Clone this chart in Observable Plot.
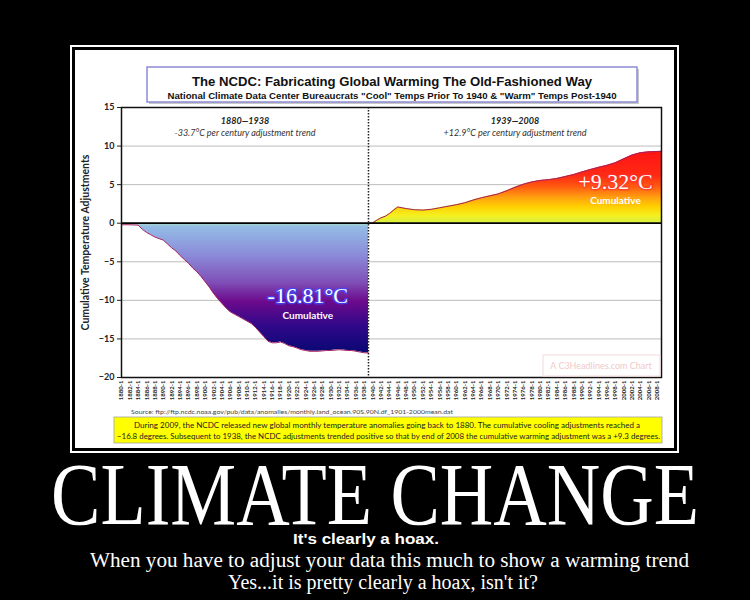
<!DOCTYPE html>
<html>
<head>
<meta charset="utf-8">
<script src="https://cdn.jsdelivr.net/npm/d3@7"></script>
<script src="https://cdn.jsdelivr.net/npm/@observablehq/plot@0.6"></script>
<style>
  html, body { margin: 0; padding: 0; background: #000; }
  #poster { position: relative; width: 750px; height: 600px; background: #000; overflow: hidden; }
  #outer { position: absolute; left: 70px; top: 45px; width: 609px; height: 408px; box-sizing: border-box; border: 2px solid #fff; background: #000; }
  #panel { position: absolute; left: 75px; top: 50px; width: 599px; height: 398px; background: #fff; }
  #chart { position: absolute; left: 75px; top: 50px; }
  #deco { position: absolute; left: 0; top: 0; pointer-events: none; }
</style>
</head>
<body>
<div id="poster">
  <div id="outer"></div>
  <div id="panel"></div>
  <div id="chart"></div>
  <svg id="deco" width="750" height="600" xmlns="http://www.w3.org/2000/svg">
    <!-- chart title box -->
    <rect x="149" y="69" width="490" height="35" fill="#c8c8c8"/>
    <rect x="147" y="67" width="490" height="35" fill="#fff" stroke="#8c8cd4" stroke-width="1.5"/>
    <text x="392" y="86" text-anchor="middle" font-family="Liberation Sans, Arial, sans-serif" font-weight="bold" font-size="12.5" fill="#111" textLength="400" lengthAdjust="spacingAndGlyphs">The NCDC: Fabricating Global Warming The Old-Fashioned Way</text>
    <text x="392" y="98.5" text-anchor="middle" font-family="Liberation Sans, Arial, sans-serif" font-weight="bold" font-size="9" fill="#111" textLength="449" lengthAdjust="spacingAndGlyphs">National Climate Data Center Bureaucrats "Cool" Temps Prior To 1940 &amp; "Warm" Temps Post-1940</text>
    <!-- watermark -->
    <rect x="543" y="355" width="117" height="21" fill="none" stroke="#f6dada" stroke-width="1"/>
    <text x="601" y="369" text-anchor="middle" font-family="Lato, sans-serif" font-size="9" fill="#f2c8c8">A C3Headlines.com Chart</text>
    <!-- source -->
    <text x="131" y="414" font-family="Lato, sans-serif" font-size="5.5" fill="#444" textLength="322" lengthAdjust="spacingAndGlyphs">Source: ftp://ftp.ncdc.noaa.gov/pub/data/anomalies/monthly.land_ocean.90S.90N.df_1901-2000mean.dat</text>
    <!-- yellow note -->
    <rect x="114" y="417" width="548" height="26" fill="#ffff00" stroke="#a0a0a0" stroke-width="0.8"/>
    <text x="387" y="427.5" text-anchor="middle" font-family="Lato, sans-serif" font-size="7.4" fill="#222" textLength="506" lengthAdjust="spacingAndGlyphs">During 2009, the NCDC released new global monthly temperature anomalies going back to 1880. The cumulative cooling adjustments reached a</text>
    <text x="388.5" y="439" text-anchor="middle" font-family="Lato, sans-serif" font-size="7.4" fill="#222" textLength="543" lengthAdjust="spacingAndGlyphs">−16.8 degrees. Subsequent to 1938, the NCDC adjustments trended positive so that by end of 2008 the cumulative warming adjustment was a +9.3 degrees.</text>
    <!-- poster text -->
    <text x="375" y="524" text-anchor="middle" font-family="Liberation Serif, Times New Roman, serif" font-size="88" fill="#fff" textLength="648" lengthAdjust="spacingAndGlyphs">CLIMATE CHANGE</text>
    <text x="366" y="544" text-anchor="middle" font-family="Liberation Sans, Arial, sans-serif" font-weight="bold" font-size="15" fill="#fff" textLength="146" lengthAdjust="spacingAndGlyphs">It's clearly a hoax.</text>
    <text x="389.5" y="567" text-anchor="middle" font-family="Liberation Serif, Times New Roman, serif" font-size="20" fill="#fff" textLength="599" lengthAdjust="spacingAndGlyphs">When you have to adjust your data this much to show a warming trend</text>
    <text x="383" y="589" text-anchor="middle" font-family="Liberation Serif, Times New Roman, serif" font-size="20" fill="#fff" textLength="310" lengthAdjust="spacingAndGlyphs">Yes...it is pretty clearly a hoax, isn't it?</text>
  </svg>
</div>
<script>
// ---- data ----
const coolYears = [1880,1882,1884,1885,1886,1887,1888,1889,1890,1891,1892,1893,1894,1895,1896,1897,1898,1899,1900,1901,1902,1903,1904,1905,1906,1907,1908,1909,1910,1911,1912,1913,1914,1915,1916,1917,1918,1919,1920,1921,1922,1923,1924,1925,1926,1927,1928,1929,1930,1931,1932,1933,1934,1935,1936,1937,1938,1939];
const coolValues = [-0.2,-0.2,-0.25,-0.8,-1.2,-1.5,-1.8,-2.0,-2.2,-2.7,-3.2,-3.6,-4.2,-4.7,-5.2,-5.8,-6.3,-6.9,-7.6,-8.3,-9.1,-9.8,-10.4,-11.0,-11.5,-11.8,-12.1,-12.4,-12.7,-13.0,-13.5,-14.1,-14.7,-15.3,-15.5,-15.5,-15.4,-15.6,-15.9,-16.0,-16.2,-16.4,-16.5,-16.6,-16.6,-16.6,-16.55,-16.5,-16.5,-16.45,-16.4,-16.45,-16.5,-16.5,-16.6,-16.7,-16.8,-16.81];
const warmYears = [1939,1940,1941,1942,1943,1944,1945,1946,1947,1948,1950,1952,1954,1956,1958,1960,1962,1964,1966,1968,1970,1972,1974,1976,1978,1980,1982,1984,1986,1988,1990,1992,1994,1996,1998,2000,2002,2004,2006,2008,2009];
const warmValues = [0,0.05,0.4,0.7,0.9,1.25,1.7,2.1,2.0,1.9,1.75,1.7,1.8,2.0,2.2,2.4,2.65,3.0,3.3,3.55,3.8,4.2,4.65,5.05,5.35,5.55,5.65,5.8,6.05,6.3,6.65,6.95,7.25,7.5,7.85,8.35,8.85,9.15,9.25,9.3,9.32];
const xTickYears = [1880,1882,1884,1886,1888,1890,1892,1894,1896,1898,1900,1902,1904,1906,1908,1910,1912,1914,1916,1918,1920,1922,1924,1926,1928,1930,1932,1934,1936,1938,1940,1942,1944,1946,1948,1950,1952,1954,1956,1958,1960,1962,1964,1966,1968,1970,1972,1974,1976,1978,1980,1982,1984,1986,1988,1990,1992,1994,1996,1998,2000,2002,2004,2006,2008];
const yTicks = [-20,-15,-10,-5,0,5,10,15];
const gridTicks = [-15,-10,-5,5,10];
const splitYear = 1939;

const cool = coolYears.map((year, i) => ({year, value: coolValues[i]}));
const warm = warmYears.map((year, i) => ({year, value: warmValues[i]}));

const chart = Plot.plot({
  width: 599,
  height: 398,
  marginLeft: 46,
  marginRight: 13,
  marginTop: 57,
  marginBottom: 71,
  style: {background: "transparent", fontFamily: "Lato, sans-serif", color: "#222", overflow: "visible"},
  x: {domain: [1880, 2009]},
  y: {domain: [-20, 15]},
  marks: [
    Plot.gridY(gridTicks, {stroke: "#bcbcbc", strokeOpacity: 1, strokeWidth: 1}),
    Plot.areaY(cool, {x: "year", y: "value", fill: "url(#gCool)"}),
    Plot.areaY(warm, {x: "year", y: "value", fill: "url(#gWarm)"}),
    Plot.line(cool, {x: "year", y: "value", stroke: "#a3205f", strokeWidth: 1}),
    Plot.line(warm, {x: "year", y: "value", stroke: "#a3205f", strokeWidth: 1}),
    Plot.ruleY([0], {stroke: "#000", strokeWidth: 1.8}),
    Plot.ruleX([splitYear], {stroke: "#222", strokeWidth: 1.5, strokeDasharray: "1.5,1.5"}),
    Plot.frame({stroke: "#111", strokeWidth: 1.5}),
    Plot.axisX(xTickYears, {tickFormat: d => d + "-1", tickRotate: -90, fontSize: 6, fontWeight: "bold", tickSize: 0, tickPadding: 3, label: null}),
    Plot.axisY(yTicks, {tickSize: 4, tickPadding: 3, fontSize: 9, fontWeight: "bold", label: null}),
    Plot.axisY({label: "Cumulative Temperature Adjustments", labelAnchor: "center", labelOffset: 40, labelArrow: "none", ticks: [], fontSize: 10.5, fontWeight: "bold"}),
    Plot.text(["1880—1938"], {x: 1909.5, y: 15, dy: 14, fontSize: 9, fontWeight: "bold", fontStyle: "italic", fill: "#222"}),
    Plot.text(["-33.7°C per century adjustment trend"], {x: 1909.5, y: 15, dy: 26, fontSize: 9, fontStyle: "italic", fill: "#333"}),
    Plot.text(["1939—2008"], {x: 1974, y: 15, dy: 14, fontSize: 9, fontWeight: "bold", fontStyle: "italic", fill: "#222"}),
    Plot.text(["+12.9°C per century adjustment trend"], {x: 1974, y: 15, dy: 26, fontSize: 9, fontStyle: "italic", fill: "#333"}),
    Plot.text(["-16.81°C"], {x: 1924.5, y: -9.45, fontSize: 22, fontFamily: "Liberation Serif, serif", fill: "#fff", stroke: "#3a48ff", strokeWidth: 3, strokeOpacity: 0.75}),
    Plot.text(["Cumulative"], {x: 1924.5, y: -12.05, fontSize: 10, fontWeight: "bold", fill: "#fff"}),
    Plot.text(["+9.32°C"], {x: 1998, y: 5.38, fontSize: 22, fontFamily: "Liberation Serif, serif", fill: "#fff", stroke: "#ff3030", strokeWidth: 3, strokeOpacity: 0.6}),
    Plot.text(["Cumulative"], {x: 1998, y: 2.85, fontSize: 10, fontWeight: "bold", fill: "#fff"})
  ]
});

// gradients anchored to the y scale
const ys = chart.scale("y");
const ns = "http://www.w3.org/2000/svg";
const defs = document.createElementNS(ns, "defs");
function grad(id, v0, v1, stops) {
  const g = document.createElementNS(ns, "linearGradient");
  g.setAttribute("id", id);
  g.setAttribute("gradientUnits", "userSpaceOnUse");
  g.setAttribute("x1", 0); g.setAttribute("x2", 0);
  g.setAttribute("y1", ys.apply(v0)); g.setAttribute("y2", ys.apply(v1));
  for (const [o, c] of stops) {
    const s = document.createElementNS(ns, "stop");
    s.setAttribute("offset", o);
    s.setAttribute("stop-color", c);
    g.appendChild(s);
  }
  defs.appendChild(g);
}
grad("gCool", 0, -17, [[0, "#b0dcc8"], [0.03, "#94bce6"], [0.25, "#8a8ad8"], [0.45, "#8050b8"], [0.6, "#6c0a8c"], [0.78, "#32088a"], [1, "#060872"]]);
grad("gWarm", 0, 9.4, [[0, "#d8f040"], [0.1, "#f4f020"], [0.22, "#ffd000"], [0.35, "#ffa010"], [0.5, "#ff5a10"], [0.65, "#ff2a14"], [1, "#ff1414"]]);
chart.insertBefore(defs, chart.firstChild);

document.getElementById("chart").appendChild(chart);
</script>
</body>
</html>
